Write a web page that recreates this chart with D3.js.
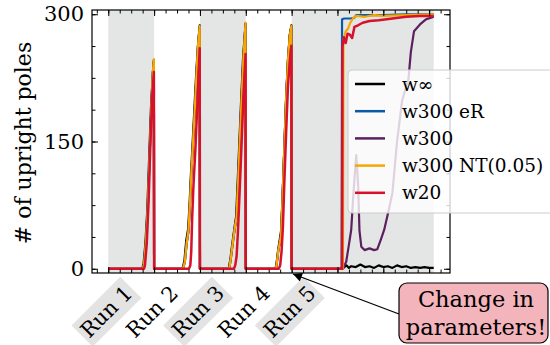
<!DOCTYPE html>
<html>
<head>
<meta charset="utf-8">
<script src="https://cdn.jsdelivr.net/npm/d3@7"></script>
<style>
  body { margin: 0; background: #fff; }
  svg { display: block; font-family: "DejaVu Serif", serif; }
</style>
</head>
<body>
<svg id="chart" width="550" height="345"></svg>
<script>
// run labels and where they sit on the x axis (episodes)
var runLabels = ["Run 1", "Run 2", "Run 3", "Run 4", "Run 5"];
var runTicks = [50, 150, 250, 350, 450];
var shadedRuns = [[0, 100], [200, 300], [400, 710]];
var yMajor = [0, 150, 300];

var seriesNames = ["w\u221E", "w300 eR", "w300", "w300 NT(0.05)", "w20"];
var seriesColors = ["#000000", "#0b5aa6", "#5d1f5e", "#f5a700", "#d7102c"];

// [episode, upright poles]
var wInf = [[0,0],[74,0],[77,6],[81,30],[85,68],[89,128],[93,188],[97,228],[99.5,246],[100,0],
  [162,0],[166,9],[170,33],[174,46],[177,72],[180,108],[184,148],[188,190],[192,232],[196,266],[199.5,287],[200,0],
  [263,0],[267,14],[271,31],[275,47],[279,62],[284,124],[289,188],[294,248],[299.5,289],[300,0],
  [365,0],[368,10],[371,24],[374,34],[377,45],[380,82],[384,142],[388,202],[392,246],[396,276],[399.5,287],[400,0],
  [510,0],[515,2],[520,4],[525,1],[530,3],[540,2],[550,5],[560,2],[570,3],[580,1],[590,4],[600,2],[610,3],
  [620,1],[630,4],[640,2],[650,3],[660,1],[670,2],[680,1],[690,2],[700,1],[710,1]];
var w300eR = [[0,0],[75,0],[78,5],[82,30],[86,70],[90,130],[94,190],[97,230],[99.5,245],[100,0],
  [163,0],[167,8],[171,30],[175,44],[178,74],[181,110],[185,150],[189,190],[193,234],[196,264],[199.5,285],[200,0],
  [264,0],[268,15],[272,32],[276,48],[280,61],[285,125],[290,190],[295,250],[299.5,289],[300,0],
  [366,0],[368,8],[371,22],[374,30],[377,40],[380,80],[384,140],[388,200],[392,245],[396,275],[399.5,285],[400,0],
  [509,0],[510,294],[515,295],[520,295],[530,295],[537,296],[541,299],[560,299],[600,299],[650,300],[710,300]];
var w300 = [[0,0],[75,0],[78,5],[82,30],[86,70],[90,130],[94,190],[97,229],[99.5,244],[100,0],
  [163,0],[167,8],[171,30],[175,44],[178,74],[181,110],[185,150],[189,190],[193,234],[196,264],[199.5,284],[200,0],
  [264,0],[268,15],[272,32],[276,48],[280,61],[285,125],[290,190],[295,250],[299.5,288],[300,0],
  [366,0],[368,8],[371,22],[374,30],[377,40],[380,80],[384,140],[388,200],[392,245],[396,275],[399.5,285],[400,0],
  [512,0],[515,4],[519,8],[524,25],[530,46],[535,90],[541,134],[545,100],[548,45],[552,26],[559,22],
  [570,24],[580,22],[587,23],[595,35],[602,46],[613,72],[620,90],[630,150],[641,198],[650,215],
  [655,224],[660,255],[667,280],[680,288],[693,294],[710,297]];
var w300NT = [[0,0],[75,0],[78,5],[82,30],[86,70],[90,130],[94,190],[97,230],[99.5,247],[100,0],
  [163,0],[167,8],[171,30],[175,45],[178,75],[181,110],[185,150],[189,190],[193,235],[196,265],[199.5,286],[200,0],
  [264,0],[268,15],[272,32],[276,48],[280,61],[285,125],[290,190],[295,250],[299.5,290],[300,0],
  [366,0],[368,8],[371,22],[374,30],[377,40],[380,80],[384,140],[388,200],[392,245],[396,275],[399.5,286],[400,0],
  [512,0],[513,270],[518,280],[523,283],[528,290],[535,296],[541,298],[560,297],[580,299],[600,298],[650,299],[710,300]];
var w20 = [[0,0],[78,0],[80,4],[84,30],[88,80],[92,150],[96,205],[99.5,232],[100,0],
  [176,0],[179,4],[181,20],[183,60],[186,100],[190,140],[194,190],[197,230],[199.5,260],[200,0],
  [274,0],[277,4],[280,15],[283,45],[287,97],[291,150],[295,205],[299.5,253],[300,0],
  [372,0],[375,4],[378,20],[381,50],[384,100],[388,160],[392,215],[396,245],[399.5,263],[400,0],
  [510,0],[511,262],[514,273],[518,266],[522,277],[527,276],[532,272],[537,285],[545,287],[555,290],
  [570,292],[590,293],[620,295],[650,297],[680,298],[710,298]];
var seriesData = [wInf, w300eR, w300, w300NT, w20];

var svg = d3.select("#chart");
var mLeft = 92, mRight = 450, mTop = 10, mBottom = 273;

var x = d3.scaleLinear().domain([-35.5, 745.5]).range([mLeft, mRight]);
var y = d3.scaleLinear().domain([-5, 305]).range([mBottom, mTop]);

// shaded runs
svg.append("g").selectAll("rect")
  .data(shadedRuns)
  .enter().append("rect")
  .attr("x", function(d) { return x(d[0]); })
  .attr("width", function(d) { return x(d[1]) - x(d[0]); })
  .attr("y", mTop)
  .attr("height", mBottom - mTop)
  .attr("fill", "#e4e6e6");

// lines
var line = d3.line()
  .x(function(d) { return x(d[0]); })
  .y(function(d) { return y(d[1]); });

svg.append("g").selectAll("path")
  .data(seriesData)
  .enter().append("path")
  .attr("d", line)
  .attr("fill", "none")
  .attr("stroke", function(d, i) { return seriesColors[i]; })
  .attr("stroke-width", function(d, i) { return i == 4 ? 2.5 : 2.2; })
  .attr("stroke-linejoin", "round");

// ticks on all four sides, pointing inward
var xMinor = d3.range(-25, 746, 25);
var xMaj = d3.range(0, 746, 100);
var yMinor = d3.range(0, 301, 37.5);

function tickAxis(axis, vals, size, tr) {
  var g = svg.append("g")
    .attr("transform", tr)
    .call(axis.tickValues(vals).tickSize(-size).tickSizeOuter(0).tickFormat(""));
  g.select(".domain").remove();
  g.selectAll("line").attr("stroke", "#000").attr("stroke-width", 1);
  return g;
}
tickAxis(d3.axisBottom(x), xMinor, 3.5, "translate(0," + mBottom + ")");
tickAxis(d3.axisBottom(x), xMaj, 6, "translate(0," + mBottom + ")");
tickAxis(d3.axisTop(x), xMinor, 3.5, "translate(0," + mTop + ")");
tickAxis(d3.axisTop(x), xMaj, 6, "translate(0," + mTop + ")");
tickAxis(d3.axisLeft(y), yMinor, 3.5, "translate(" + mLeft + ",0)");
tickAxis(d3.axisRight(y), yMinor, 3.5, "translate(" + mRight + ",0)");
tickAxis(d3.axisRight(y), yMajor, 6, "translate(" + mRight + ",0)");

var yAxis = svg.append("g")
  .attr("transform", "translate(" + mLeft + ",0)")
  .call(d3.axisLeft(y).tickValues(yMajor).tickSize(-6).tickSizeOuter(0).tickPadding(8));
yAxis.select(".domain").remove();
yAxis.selectAll("line").attr("stroke", "#000");
yAxis.selectAll("text")
  .attr("font-family", "DejaVu Serif")
  .attr("font-size", 21)
  .attr("fill", "#000");

svg.append("rect")
  .attr("x", mLeft).attr("y", mTop)
  .attr("width", mRight - mLeft).attr("height", mBottom - mTop)
  .attr("fill", "none").attr("stroke", "#000").attr("stroke-width", 1.2);

// y label
svg.append("text")
  .attr("transform", "translate(31,143) rotate(-90)")
  .attr("text-anchor", "middle")
  .attr("font-size", 22)
  .text("# of upright poles");

// rotated run labels, odd ones on a grey box
runLabels.forEach(function(lab, i) {
  var g = svg.append("g");
  var box = g.append("rect").attr("fill", "#e3e3e3");
  var t = g.append("text")
    .attr("text-anchor", "end")
    .attr("font-size", 21)
    .text(lab);
  var bb = t.node().getBBox();
  var pad = 3;
  if (i % 2 == 0) {
    box.attr("x", bb.x - pad).attr("y", bb.y - pad)
      .attr("width", bb.width + 2 * pad).attr("height", bb.height + 2 * pad);
  } else {
    box.remove();
  }
  var x1 = bb.x + bb.width, y0 = bb.y, y1 = bb.y + bb.height;
  var s = Math.SQRT1_2;
  var tx = x(runTicks[i]) + 6 - (x1 + y1) * s;
  var ty = 281 - (y0 - x1) * s;
  g.attr("transform", "translate(" + tx + "," + ty + ") rotate(-45)");
});

// legend
var leg = svg.append("g");
leg.append("rect")
  .attr("x", 348).attr("y", 70)
  .attr("width", 210).attr("height", 143)
  .attr("rx", 4)
  .attr("fill", "#fff").attr("fill-opacity", 0.8)
  .attr("stroke", "#cccccc").attr("stroke-width", 1);
seriesNames.forEach(function(name, i) {
  var yy = 84 + i * 27.2;
  leg.append("line")
    .attr("x1", 355).attr("x2", 385)
    .attr("y1", yy).attr("y2", yy)
    .attr("stroke", seriesColors[i]).attr("stroke-width", 2.5);
  leg.append("text")
    .attr("x", 402).attr("y", yy + 6.5)
    .attr("font-size", 18.5)
    .text(name);
});

// annotation
var defs = svg.append("defs");
defs.append("marker")
  .attr("id", "head")
  .attr("viewBox", "0 0 10 10")
  .attr("refX", 10).attr("refY", 5)
  .attr("markerWidth", 13).attr("markerHeight", 9)
  .attr("markerUnits", "userSpaceOnUse")
  .attr("orient", "auto")
  .append("path").attr("d", "M0,0 L10,5 L0,10 Z").attr("fill", "#000");

svg.append("line")
  .attr("x1", 399).attr("y1", 314)
  .attr("x2", 293).attr("y2", 274)
  .attr("stroke", "#000").attr("stroke-width", 1.3)
  .attr("marker-end", "url(#head)");

svg.append("rect")
  .attr("x", 399).attr("y", 283)
  .attr("width", 149).attr("height", 60)
  .attr("rx", 8)
  .attr("fill", "#f4b4bc").attr("stroke", "#000").attr("stroke-width", 1.2);
svg.append("text")
  .attr("x", 476).attr("y", 307)
  .attr("text-anchor", "middle").attr("font-size", 22.5)
  .text("Change in");
svg.append("text")
  .attr("x", 476).attr("y", 335)
  .attr("text-anchor", "middle").attr("font-size", 22.5)
  .text("parameters!");
</script>
</body>
</html>
